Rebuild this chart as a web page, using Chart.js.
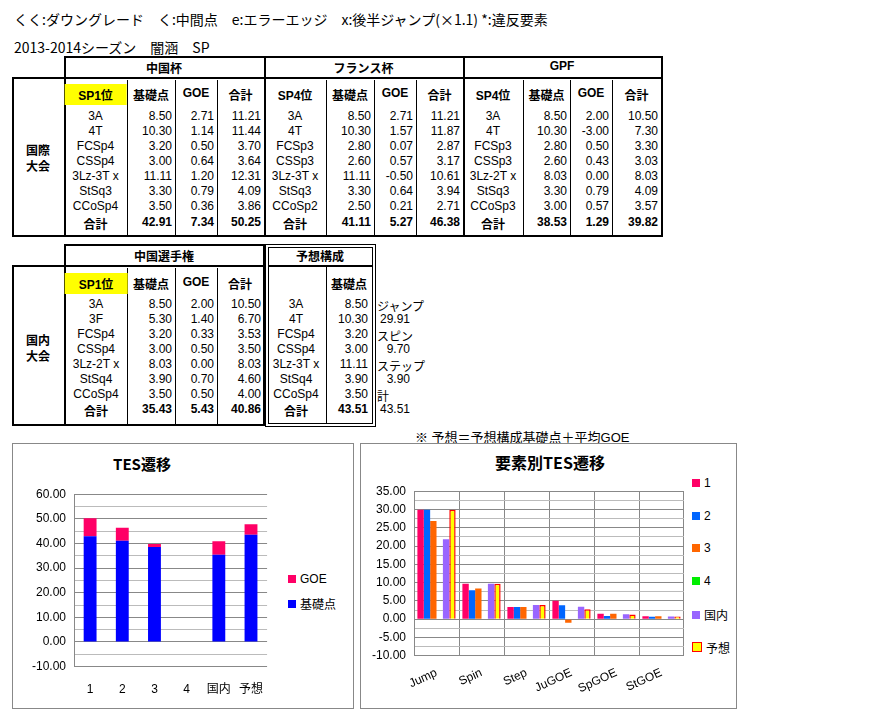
<!DOCTYPE html>
<html><head><meta charset="utf-8">
<script src="https://cdn.jsdelivr.net/npm/chart.js"></script>
<style>
body{margin:0;width:870px;height:715px;background:#fff;position:relative;font-family:"Liberation Sans Narrow","Liberation Sans","Noto Sans CJK JP",sans-serif;font-size:12px;color:#000;overflow:hidden}
.a{position:absolute;white-space:nowrap}
.ln{position:absolute;background:#000}
.box{position:absolute;border:1px solid #888;background:#fff}
.jp{font-family:"Noto Sans CJK JP",sans-serif}
</style></head><body>
<script>
// ---- data ----
const compNames=["中国杯","フランス杯","GPF"];
const compRanks=["SP1位","SP4位","SP4位"];
const compElems=[["3A","4T","FCSp4","CSSp4","3Lz-3T x","StSq3","CCoSp4"],["3A","4T","FCSp3","CSSp3","3Lz-3T x","StSq3","CCoSp2"],["3A","4T","FCSp3","CSSp3","3Lz-2T x","StSq3","CCoSp3"]];
const compBase=[[8.50,10.30,3.20,3.00,11.11,3.30,3.50],[8.50,10.30,2.80,2.60,11.11,3.30,2.50],[8.50,10.30,2.80,2.60,8.03,3.30,3.00]];
const compGoe=[[2.71,1.14,0.50,0.64,1.20,0.79,0.36],[2.71,1.57,0.07,0.57,-0.50,0.64,0.21],[2.00,-3.00,0.50,0.43,0.00,0.79,0.57]];
const natElems=["3A","3F","FCSp4","CSSp4","3Lz-2T x","StSq4","CCoSp4"];
const natBase=[8.50,5.30,3.20,3.00,8.03,3.90,3.50];
const natGoe=[2.00,1.40,0.33,0.50,0.00,0.70,0.50];
const planElems=["3A","4T","FCSp4","CSSp4","3Lz-3T x","StSq4","CCoSp4"];
const planBase=[8.50,10.30,3.20,3.00,11.11,3.90,3.50];
const planSide=["ジャンプ","29.91","スピン","9.70","ステップ","3.90","計","43.51"];
const tesCats=["1","2","3","4","国内","予想"];
const tesBase=[42.91,41.11,38.53,null,35.43,43.51];
const tesGoe=[7.34,5.27,1.29,null,5.43,4.33];
const elCats=["Jump","Spin","Step","JuGOE","SpGOE","StGOE"];
const el1=[29.91,9.70,3.30,5.05,1.50,0.79];
const el2=[29.91,7.90,3.30,3.78,0.85,0.64];
const el3=[26.83,8.40,3.30,-1.00,1.50,0.79];
const el4=[null,null,null,null,null,null];
const elNat=[21.83,9.70,3.90,3.40,1.33,0.70];
const elPlan=[29.91,9.70,3.90,2.70,1.30,0.73];

// ---- helpers ----
const B=document.body;
function t(x,y,s,o={}){const d=document.createElement('div');d.className='a';d.textContent=s;d.style.top=(y-8)+'px';
 if(o.al==='r'){d.style.right=(870-x)+'px'}else if(o.al==='c'){d.style.left=x+'px';d.style.transform='translateX(-50%)'}else d.style.left=x+'px';
 if(o.b)d.style.fontWeight='bold'; if(o.bg){d.style.background=o.bg;d.style.padding='2px 14px';d.style.top=(y-10)+'px'}
 if(o.fs)d.style.fontSize=o.fs+'px'; if(o.ls)d.style.letterSpacing=o.ls+'px'; if(o.cls)d.className+=' '+o.cls; B.appendChild(d);return d;}
function L(x,y,w,h){const d=document.createElement('div');d.className='ln';Object.assign(d.style,{left:x+'px',top:y+'px',width:w+'px',height:h+'px'});B.appendChild(d);}
const f=v=>v.toFixed(2);
const sum=a=>a.reduce((p,c)=>p+c,0);

t(14,17,"くく:ダウングレード　く:中間点　e:エラーエッジ　x:後半ジャンプ(×1.1) *:違反要素",{fs:14,cls:'jp'});
t(14,45,"2013-2014シーズン　闇涵　SP",{fs:14,cls:'jp'});

// top table
const cols=[64,127,175,217,264,326,374,416,463,523,570,612,661];
L(64,56,598,2);L(12,77,650,2);L(12,235,650,2);L(12,77,2,160);
for(const x of [64,264,463,661])L(x,56,2,181);
for(let i=0;i<13;i++){if(![0,4,8,12].includes(i))L(cols[i],80,1,155);}
t(38,149,"国際",{al:'c',b:1,cls:'jp',fs:12});t(38,165,"大会",{al:'c',b:1,cls:'jp',fs:12});
const rowY=[117,132,147,162,177,192,207];
for(let c=0;c<3;c++){
 const x0=cols[c*4];
 t((x0+cols[c*4+4])/2,67,compNames[c],{al:'c',b:1});
 t((x0+cols[c*4+1])/2,94,compRanks[c],{al:'c',b:1,bg:c===0?'#ffff00':null});
 t((cols[c*4+1]+cols[c*4+2])/2,94,"基礎点",{al:'c',b:1});
 t((cols[c*4+2]+cols[c*4+3])/2,94,"GOE",{al:'c',b:1});
 t((cols[c*4+3]+cols[c*4+4])/2,94,"合計",{al:'c',b:1});
 for(let r=0;r<7;r++){
  t((x0+cols[c*4+1])/2,rowY[r],compElems[c][r],{al:'c'});
  t(cols[c*4+2]-3,rowY[r],f(compBase[c][r]),{al:'r'});
  t(cols[c*4+3]-3,rowY[r],f(compGoe[c][r]),{al:'r'});
  t(cols[c*4+4]-3,rowY[r],f(compBase[c][r]+compGoe[c][r]),{al:'r'});
 }
 t((x0+cols[c*4+1])/2,223,"合計",{al:'c',b:1});
 t(cols[c*4+2]-3,223,f(sum(compBase[c])),{al:'r',b:1});
 t(cols[c*4+3]-3,223,f(sum(compGoe[c])),{al:'r',b:1});
 t(cols[c*4+4]-3,223,f(sum(compBase[c])+sum(compGoe[c])),{al:'r',b:1});
}
// bottom table
L(64,244,200,2);L(12,265,252,2);L(12,424,252,2);L(12,265,2,161);L(64,244,2,182);L(263,244,2,182);
for(const x of [127,175,217])L(x,268,1,156);
L(265,244,111,1);L(265,244,1,183);L(375,244,1,183);L(265,426,111,1);
L(268,247,105,1);L(268,247,1,177);L(372,247,1,177);L(268,423,105,1);L(268,265,105,2);L(326,267,1,156);
t(38,339,"国内",{al:'c',b:1,cls:'jp'});t(38,355,"大会",{al:'c',b:1,cls:'jp'});
t(164,255,"中国選手権",{al:'c',b:1});t(320,255,"予想構成",{al:'c',b:1});
t(96,283,"SP1位",{al:'c',b:1,bg:'#ffff00'});t(151,283,"基礎点",{al:'c',b:1});t(196,283,"GOE",{al:'c',b:1});t(240,283,"合計",{al:'c',b:1});t(349,283,"基礎点",{al:'c',b:1});
const rY2=[305,320,335,350,365,380,395];
for(let r=0;r<7;r++){
 t(96,rY2[r],natElems[r],{al:'c'});t(172,rY2[r],f(natBase[r]),{al:'r'});t(214,rY2[r],f(natGoe[r]),{al:'r'});t(261,rY2[r],f(natBase[r]+natGoe[r]),{al:'r'});
 t(296,rY2[r],planElems[r],{al:'c'});t(368,rY2[r],f(planBase[r]),{al:'r'});
}
t(96,410,"合計",{al:'c',b:1});t(172,410,f(sum(natBase)),{al:'r',b:1});t(214,410,f(sum(natGoe)),{al:'r',b:1});t(261,410,f(sum(natBase)+sum(natGoe)),{al:'r',b:1});
t(296,410,"合計",{al:'c',b:1});t(368,410,f(sum(planBase)),{al:'r',b:1});
const sideY=[305,320,335,350,365,380,395,410];
planSide.forEach((s,i)=>{ if(i%2===0)t(377,sideY[i],s); else t(410,sideY[i],s,{al:'r'});});
t(415,435,"※ 予想＝予想構成基礎点＋平均GOE",{fs:13});
</script>

<div class="box" style="left:12px;top:443px;width:340px;height:264px"></div>
<div class="box" style="left:360px;top:443px;width:375px;height:264px"></div>
<div class="a jp" style="left:22px;width:240px;top:453px;text-align:center;font-weight:bold;font-size:15px">TES遷移</div>
<div class="a jp" style="left:410px;width:280px;top:450px;text-align:center;font-weight:bold;font-size:16px">要素別TES遷移</div>
<div style="position:absolute;left:24px;top:479px;width:247px;height:226px"><canvas id="c1"></canvas></div>
<div style="position:absolute;left:364px;top:476px;width:320px;height:230px"><canvas id="c2"></canvas></div>
<div id="lg1" style="position:absolute;left:288px;top:572px"></div>
<div id="lg2" style="position:absolute;left:692px;top:476px"></div>
<script>
const F='"Liberation Sans","Noto Sans CJK JP",sans-serif';
function legend(id,items,gap){const el=document.getElementById(id);items.forEach((it,i)=>{const r=document.createElement('div');r.style.cssText='position:absolute;left:0;top:'+(i*gap)+'px;white-space:nowrap;font-family:'+F+';font-size:12px;display:flex;align-items:center';
 const s=document.createElement('span');s.style.cssText='display:inline-block;width:8px;height:8px;margin-right:4px;background:'+it.c+(it.b?';border:1px solid '+it.b:'');r.appendChild(s);r.appendChild(document.createTextNode(it.l));el.appendChild(r);});}
legend('lg1',[{l:'GOE',c:'#ff0066'},{l:'基礎点',c:'#0000ff'}],23);
legend('lg2',[{l:'1',c:'#ff0066'},{l:'2',c:'#0066ff'},{l:'3',c:'#ff6600'},{l:'4',c:'#00ee00'},{l:'国内',c:'#9966ff'},{l:'予想',c:'#ffff00',b:'#ff0000'}],32.5);
Chart.defaults.font.family=F;Chart.defaults.color='#000';Chart.defaults.font.size=12;
new Chart(document.getElementById('c1'),{type:'bar',data:{labels:tesCats,datasets:[
 {label:'基礎点',data:tesBase,backgroundColor:'#0000ff',stack:'s',barPercentage:0.4,categoryPercentage:1},
 {label:'GOE',data:tesGoe,backgroundColor:'#ff0066',stack:'s',barPercentage:0.4,categoryPercentage:1}]},
 options:{animation:false,maintainAspectRatio:false,responsive:true,plugins:{legend:{display:false},tooltip:{enabled:false}},
 scales:{x:{stacked:true,grid:{display:false},border:{display:false},ticks:{padding:8}},
 y:{stacked:true,min:-10,max:60,border:{color:'#888'},ticks:{stepSize:5,autoSkip:false,callback:v=>v%10===0?v.toFixed(2):'',padding:8},
 grid:{color:c=>c.tick&&c.tick.value%10===0?'#888':'#bbb',drawTicks:false}}}}});
const ds=(l,d,c,b)=>({label:l,data:d,backgroundColor:c,borderColor:b||c,borderWidth:b?1.5:0,barPercentage:1,categoryPercentage:0.85});
new Chart(document.getElementById('c2'),{type:'bar',data:{labels:elCats,datasets:[
 ds('1',el1,'#ff0066'),ds('2',el2,'#0066ff'),ds('3',el3,'#ff6600'),ds('4',el4,'#00ee00'),ds('国内',elNat,'#9966ff'),ds('予想',elPlan,'#ffff00','#ff0000')]},
 options:{animation:false,maintainAspectRatio:false,responsive:true,plugins:{legend:{display:false},tooltip:{enabled:false}},
 scales:{x:{grid:{color:'#888',offset:true,drawTicks:false},border:{color:'#888'},ticks:{padding:10}},
 y:{min:-10,max:35,border:{color:'#888'},ticks:{stepSize:2.5,autoSkip:false,callback:v=>v%5===0?v.toFixed(2):'',padding:8},
 grid:{color:c=>c.tick&&c.tick.value%5===0?'#888':'#bbb',drawTicks:false}}}}});
</script>
</body></html>
